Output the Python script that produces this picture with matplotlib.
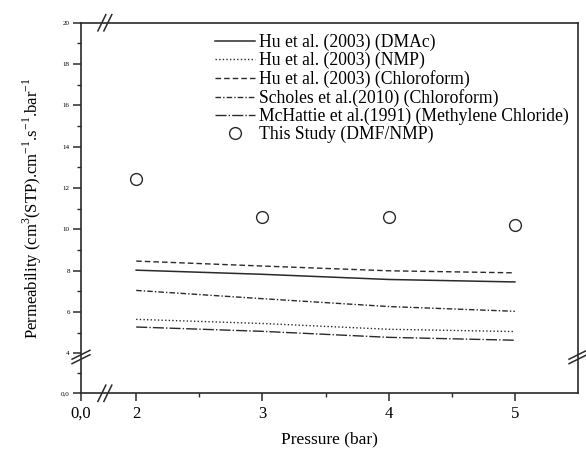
import numpy as np
import matplotlib
matplotlib.use("Agg")
import matplotlib.pyplot as plt
from matplotlib.ticker import FixedLocator, FixedFormatter

plt.rcParams['font.family'] = ['Liberation Serif', 'DejaVu Serif']
plt.rcParams['mathtext.fontset'] = 'custom'
plt.rcParams['mathtext.rm'] = 'Liberation Serif'

# ---- data ----
pressure = [2, 3, 4, 5]
hu_dmac = [8.03, 7.83, 7.58, 7.46]
hu_nmp = [5.65, 5.45, 5.17, 5.06]
hu_chloroform = [8.47, 8.23, 8.00, 7.90]
scholes = [7.05, 6.65, 6.27, 6.04]
mchattie = [5.28, 5.07, 4.78, 4.64]
this_study = [12.45, 10.58, 10.58, 10.20]

labels = ["Hu et al. (2003) (DMAc)", "Hu et al. (2003) (NMP)",
          "Hu et al. (2003) (Chloroform)", "Scholes et al.(2010) (Chloroform)",
          "McHattie et al.(1991) (Methylene Chloride)", "This Study (DMF/NMP)"]

x_major = [0, 2, 3, 4, 5]
x_major_labels = ["0,0", "2", "3", "4", "5"]
x_minor = [2.5, 3.5, 4.5]
y_major = [0, 4, 6, 8, 10, 12, 14, 16, 18, 20]
y_major_labels = ["0,0", "4", "6", "8", "10", "12", "14", "16", "18", "20"]
y_minor = [2, 5, 7, 9, 11, 13, 15, 17, 19]

# ---- broken-axis scales (piecewise linear) ----
XB, XK = 2.0, 0.2186
YB, YK = 4.0, 0.4819

def xf(x):
    x = np.asarray(x, dtype=float)
    return np.where(x < XB, x * XK, XB * XK + (x - XB))

def xi(u):
    u = np.asarray(u, dtype=float)
    return np.where(u < XB * XK, u / XK, XB + (u - XB * XK))

def yf(y):
    y = np.asarray(y, dtype=float)
    return np.where(y < YB, y * YK, YB * YK + (y - YB))

def yi(v):
    v = np.asarray(v, dtype=float)
    return np.where(v < YB * YK, v / YK, YB + (v - YB * YK))

fig = plt.figure(figsize=(5.86, 4.5), dpi=100)
ax = fig.add_axes([0.1382, 0.126, 0.8481, 0.8234])
ax.set_xscale('function', functions=(xf, xi))
ax.set_yscale('function', functions=(yf, yi))

lc = '#2a2a2a'
ax.plot(pressure, hu_dmac, color=lc, lw=1.1, ls='-', label=labels[0])
ax.plot(pressure, hu_nmp, color=lc, lw=1.0, ls=(0, (1, 1.6)), label=labels[1])
ax.plot(pressure, hu_chloroform, color=lc, lw=1.0, ls=(0, (4, 2.2)), label=labels[2])
ax.plot(pressure, scholes, color=lc, lw=1.0, ls=(0, (4, 1.5, 1, 1.5)), label=labels[3])
ax.plot(pressure, mchattie, color=lc, lw=1.0, ls=(0, (8, 1.5, 1, 1.5)), label=labels[4])
ax.plot(pressure, this_study, ls='none', marker='o', ms=8.5, mfc='white',
        mec=lc, mew=1.0, label=labels[5])

ax.set_xlim(0, 5.5)
ax.set_ylim(0, 20)

ax.xaxis.set_major_locator(FixedLocator(x_major))
ax.xaxis.set_major_formatter(FixedFormatter(x_major_labels))
ax.xaxis.set_minor_locator(FixedLocator(x_minor))
ax.yaxis.set_major_locator(FixedLocator(y_major))
ax.yaxis.set_major_formatter(FixedFormatter(y_major_labels))
ax.yaxis.set_minor_locator(FixedLocator(y_minor))

ax.tick_params(axis='x', which='major', direction='out', length=6, width=1.1,
               labelsize=12, color=lc, pad=3)
ax.tick_params(axis='x', which='minor', direction='out', length=3, width=1.0, color=lc)
ax.tick_params(axis='y', which='major', direction='out', length=6, width=1.1,
               labelsize=5, color=lc, pad=2)
ax.tick_params(axis='y', which='minor', direction='out', length=3, width=1.0, color=lc)

for s in ax.spines.values():
    s.set_linewidth(1.2)
    s.set_color(lc)

ax.set_xlabel("Pressure (bar)", fontsize=12.5, labelpad=7)
ax.set_ylabel(r"Permeability (cm$^{3}$(STP).cm$^{-1}$.s$^{-1}$.bar$^{-1}$",
              fontsize=12, labelpad=12)

# break marks
def brk(xc, yc, horizontal):
    d = 0.008
    for off in (-0.006, 0.006):
        if horizontal:
            ax.plot([xc + off - d, xc + off + d], [yc - 0.022, yc + 0.022],
                    transform=ax.transAxes, color=lc, lw=1.1, clip_on=False)
        else:
            ax.plot([xc - 0.018, xc + 0.018], [yc + off - 0.012, yc + off + 0.012],
                    transform=ax.transAxes, color=lc, lw=1.1, clip_on=False)

brk(0.048, 0.0, True)
brk(0.048, 1.0, True)
brk(0.0, 0.098, False)
brk(1.0, 0.098, False)

leg = ax.legend(loc='upper left', bbox_to_anchor=(0.262, 0.98), frameon=False,
                fontsize=12.7, labelspacing=0.05, handlelength=2.3, handletextpad=0.2,
                borderpad=0.2, borderaxespad=0)

fig.savefig("out.png", dpi=100)
